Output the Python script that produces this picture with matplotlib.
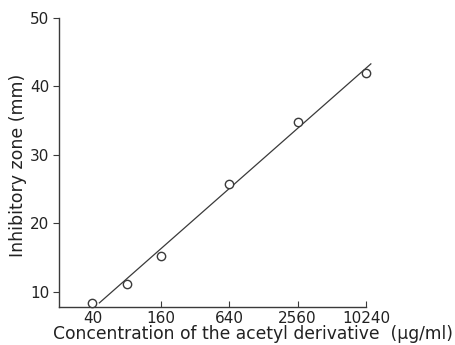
import matplotlib
matplotlib.use("Agg")
import matplotlib.pyplot as plt

# data
conc = [40, 80, 160, 640, 2560, 10240]
zone = [8.4, 11.2, 15.2, 25.8, 34.8, 41.9]
fit_x = [46, 11300]
fit_y = [8.4, 43.3]
xticks = [40, 160, 640, 2560, 10240]
xticklabels = ["40", "160", "640", "2560", "10240"]
yticks = [10, 20, 30, 40, 50]

fig = plt.figure(figsize=(4.55, 3.45), dpi=100)
ax = fig.add_axes([59/455, 1-307/345, (366-59)/455, (307-18)/345])
ink = "#3a3a3a"
ax.plot(fit_x, fit_y, color=ink, lw=0.9, clip_on=False)
ax.plot(conc, zone, "o", mfc="white", mec=ink, mew=1.0, ms=6, clip_on=False, zorder=3)
ax.set_xscale("log")
ax.set_xlim(20.3, 10240)
ax.set_ylim(7.8, 50)
ax.set_xticks(xticks)
ax.set_xticklabels(xticklabels)
ax.minorticks_off()
ax.set_yticks(yticks)
for s in ["top", "right"]:
    ax.spines[s].set_visible(False)
for s in ["left", "bottom"]:
    ax.spines[s].set_color(ink)
    ax.spines[s].set_linewidth(1.0)
ax.tick_params(axis="x", direction="in", length=4, color=ink, labelsize=11, labelcolor="#222222", pad=3)
ax.tick_params(axis="y", direction="out", length=4, color=ink, labelsize=11, labelcolor="#222222", pad=3)
ax.set_ylabel("Inhibitory zone (mm)", fontsize=12.5, color="#222222")
ax.yaxis.set_label_coords(-0.105, 0.49)
fig.text(253/455, 1-334/345, "Concentration of the acetyl derivative  (\u03bcg/ml)",
         ha="center", va="center", fontsize=12.3, color="#222222")
fig.savefig("out.png", dpi=100)
